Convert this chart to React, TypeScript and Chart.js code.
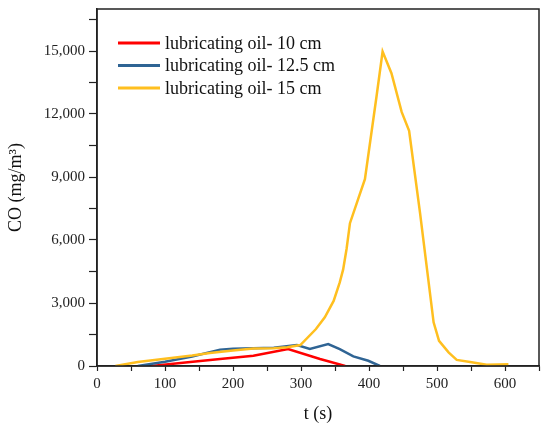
import Chart from 'chart.js/auto';
import { useEffect, useRef } from 'react';

// lubricating oil - 10 cm
const t10 = [80, 130, 181, 230, 281, 328, 365];
const co10 = [0, 170, 333, 490, 810, 333, 0];

// lubricating oil - 12.5 cm
const t125 = [60, 100, 140, 181, 200, 230, 260, 294, 313, 340, 357, 377, 399, 416];
const co125 = [0, 200, 450, 780, 820, 850, 870, 1000, 810, 1040, 800, 460, 250, 0];

// lubricating oil - 15 cm
const t15 = [27, 60, 100, 140, 166, 200, 230, 260, 280, 299, 322, 335, 348, 357, 362, 367, 372, 384, 394, 411, 420, 433, 448, 459, 475, 495, 503, 517, 529, 551, 573, 605];
const co15 = [0, 190, 350, 500, 620, 740, 830, 850, 890, 1000, 1760, 2320, 3100, 3980, 4600, 5570, 6800, 7950, 8900, 12820, 14970, 13940, 12100, 11200, 7300, 2080, 1200, 650, 290, 175, 60, 80];

const seriesLabels = ['lubricating oil- 10 cm', 'lubricating oil- 12.5 cm', 'lubricating oil- 15 cm'];
const seriesColors = ['#ff0000', '#2f6494', '#ffbf1f'];

// tick positions (every other one gets a label)
const xTicks = [0, 50, 100, 150, 200, 250, 300, 350, 400, 450, 500, 550, 600, 650];
const yTicks = [0, 1500, 3000, 4500, 6000, 7500, 9000, 10500, 12000, 13500, 15000, 16500];

const serif = '"Liberation Serif", "Times New Roman", serif';

const zip = (xs: number[], ys: number[]) => xs.map((x, i) => ({ x, y: ys[i] }));

// frame around the plot + legend in the top-left corner of the plot
const framePlugin = {
	id: 'frame',
	afterDraw(chart: any) {
		const { ctx, chartArea } = chart;
		ctx.save();
		ctx.strokeStyle = '#222';
		ctx.lineWidth = 1.5;
		ctx.strokeRect(chartArea.left, chartArea.top, chartArea.right - chartArea.left, chartArea.bottom - chartArea.top);

		ctx.font = `18px ${serif}`;
		ctx.textBaseline = 'middle';
		chart.data.datasets.forEach((ds: any, i: number) => {
			const y = chartArea.top + 34 + i * 22.5;
			const x = chartArea.left + 21;
			ctx.strokeStyle = ds.borderColor;
			ctx.lineWidth = 3;
			ctx.beginPath();
			ctx.moveTo(x, y);
			ctx.lineTo(x + 42, y);
			ctx.stroke();
			ctx.fillStyle = '#111';
			ctx.fillText(ds.label, x + 47, y + 1);
		});
		ctx.restore();
	},
};

export default function App() {
	const canvas = useRef<HTMLCanvasElement | null>(null);
	useEffect(() => {
		if (!canvas.current) return;
		const chart = new Chart(canvas.current, {
			type: 'line',
			data: {
				datasets: [
					{ label: seriesLabels[0], data: zip(t10, co10), borderColor: seriesColors[0], order: 2 },
					{ label: seriesLabels[1], data: zip(t125, co125), borderColor: seriesColors[1], order: 1 },
					{ label: seriesLabels[2], data: zip(t15, co15), borderColor: seriesColors[2], order: 0 },
				].map((d) => ({ ...d, borderWidth: 2.5, pointRadius: 0, tension: 0, fill: false })),
			},
			options: {
				animation: false,
				responsive: true,
				maintainAspectRatio: false,
				layout: { padding: { left: 0, top: 9, right: 11, bottom: 0 } },
				plugins: { legend: { display: false }, tooltip: { enabled: false } },
				scales: {
					x: {
						type: 'linear',
						min: 0,
						max: 650,
						afterBuildTicks: (s: any) => { s.ticks = xTicks.map((value) => ({ value })); },
						afterFit: (s: any) => { s.height = 63; },
						border: { color: '#222', width: 1.5 },
						grid: { drawOnChartArea: false, tickLength: 5, color: '#222', tickWidth: 1.2 },
						ticks: {
							autoSkip: false,
							padding: 4,
							color: '#222',
							font: { family: serif, size: 15 },
							maxRotation: 0,
							callback: (v: any) => (Math.round(v) % 100 === 0 ? String(Math.round(v)) : ''),
						},
						title: { display: true, text: 't (s)', color: '#111', font: { family: serif, size: 18 }, padding: { top: 0, bottom: 4 } },
					},
					y: {
						min: 0,
						max: 17000,
						afterBuildTicks: (s: any) => { s.ticks = yTicks.map((value) => ({ value })); },
						afterFit: (s: any) => {
							s.width = 97;
							s.paddingTop = 0;
							s.paddingBottom = 0;
						},
						border: { color: '#222', width: 1.5 },
						grid: { drawOnChartArea: false, tickLength: 8, color: '#222', tickWidth: 1.2 },
						ticks: {
							autoSkip: false,
							padding: 4,
							color: '#222',
							font: { family: serif, size: 15 },
							callback: (v: any) => {
								const n = Math.round(v);
								return n % 3000 === 0 ? n.toLocaleString('en-US') : '';
							},
						},
						title: { display: true, text: 'CO (mg/m³)', color: '#111', font: { family: serif, size: 18 }, padding: { top: 5, bottom: 0 } },
					},
				},
			},
			plugins: [framePlugin],
		});
		return () => chart.destroy();
	}, []);

	return (
		<div style={{ position: 'absolute', left: 0, top: 0, width: 550, height: 429, background: '#fff' }}>
			<canvas ref={canvas}></canvas>
		</div>
	);
}
